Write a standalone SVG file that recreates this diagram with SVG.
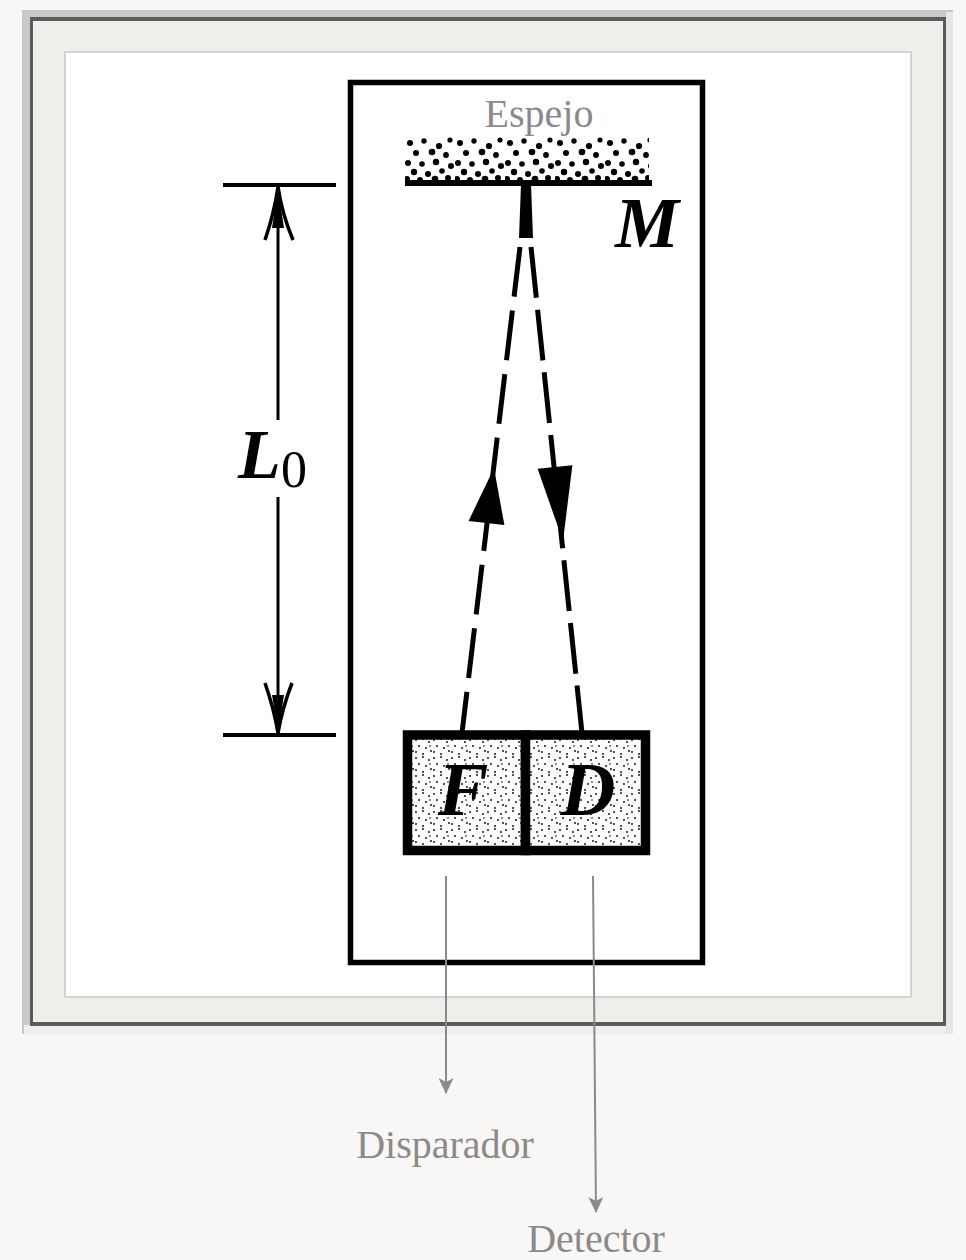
<svg xmlns="http://www.w3.org/2000/svg" width="966" height="1260" viewBox="0 0 966 1260">
  <style>
    .ink { stroke: #000; fill: none; }
    .cell { stroke: #000; stroke-width: 9.5; fill: url(#boxDots); }
    .beam { stroke: #000; stroke-width: 5; fill: none; }
    .label { font-family: "Liberation Serif", "DejaVu Serif", serif; fill: #8a8a8a; font-size: 40px; }
    .sym { font-family: "Liberation Serif", "DejaVu Serif", serif; font-weight: bold; font-style: italic; fill: #000; }
    .callout { stroke: #8a8a8a; stroke-width: 2; fill: none; }
  </style>
  <defs>
    <marker id="grayHead" viewBox="0 0 16 15" refX="15" refY="7.5" markerWidth="16" markerHeight="15" markerUnits="userSpaceOnUse" orient="auto">
      <path d="M0,0 L16,7.5 L0,15 L4,7.5 Z" fill="#8a8a8a"/>
    </marker>
    <pattern id="mirrorDots" patternUnits="userSpaceOnUse" x="405" y="137" width="50" height="44">
      <g fill="#000">
        <circle cx="5" cy="6" r="3"/><circle cx="19" cy="4" r="2.7"/><circle cx="34" cy="9" r="3.1"/><circle cx="45" cy="3" r="2.6"/>
        <circle cx="11" cy="16" r="3"/><circle cx="27" cy="15" r="3.3"/><circle cx="41" cy="18" r="2.9"/>
        <circle cx="3" cy="26" r="3"/><circle cx="17" cy="27" r="2.8"/><circle cx="31" cy="25" r="3.2"/><circle cx="46" cy="29" r="3"/>
        <circle cx="9" cy="35" r="3.2"/><circle cx="23" cy="37" r="3"/><circle cx="37" cy="34" r="2.8"/>
        <circle cx="2" cy="42" r="3"/><circle cx="15" cy="43" r="3"/><circle cx="30" cy="42" r="3.3"/><circle cx="43" cy="41" r="3"/>
      </g>
    </pattern>
    <pattern id="boxDots" patternUnits="userSpaceOnUse" x="0" y="0" width="18" height="18">
      <rect width="18" height="18" fill="#fff"/>
      <g fill="#000">
        <circle cx="2" cy="2" r="0.9"/><circle cx="9" cy="1" r="0.9"/><circle cx="15" cy="4" r="0.9"/>
        <circle cx="5" cy="8" r="0.9"/><circle cx="12" cy="10" r="0.9"/><circle cx="17" cy="13" r="0.9"/>
        <circle cx="2" cy="14" r="0.9"/><circle cx="9" cy="16" r="0.9"/><circle cx="16" cy="8" r="0.8"/>
      </g>
    </pattern>
  </defs>

  <rect width="966" height="1260" fill="#f8f7f5"/>

  <g id="frame">
    <rect x="22" y="10" width="931" height="1024" fill="#c9c9c9"/>
    <rect x="24" y="1025" width="929" height="9" fill="#efefef"/>
    <rect x="946" y="12" width="7" height="1022" fill="#e6e6e6"/>
    <rect x="30" y="17" width="916" height="1009" fill="#5a5a5a"/>
    <rect x="33" y="21" width="910" height="1001" fill="#eeeeeb"/>
    <rect x="65" y="52" width="846" height="945" fill="#ffffff" stroke="#c8c8c8" stroke-width="1.5"/>
  </g>

  <g id="apparatus">
    <rect x="350.5" y="82.5" width="352" height="880" class="ink" stroke-width="5.5"/>
  </g>

  <g id="mirror">
    <rect x="405" y="137" width="244" height="45" fill="url(#mirrorDots)"/>
    <line x1="405" y1="183" x2="652" y2="183" class="ink" stroke-width="6"/>
    <text x="539" y="127" class="label" text-anchor="middle">Espejo</text>
    <text x="647" y="247" class="sym" font-size="72" text-anchor="middle">M</text>
  </g>

  <g id="dimension">
    <line x1="223" y1="185" x2="336" y2="185" class="ink" stroke-width="4"/>
    <line x1="223" y1="735" x2="336" y2="735" class="ink" stroke-width="4"/>
    <line x1="278" y1="187" x2="278" y2="420" class="ink" stroke-width="3"/>
    <line x1="278" y1="497" x2="278" y2="733" class="ink" stroke-width="3"/>
    <path d="M265,240 Q274,214 278,187 Q282,214 293,240" class="ink" stroke-width="3.5"/>
    <path d="M272,228 L278,188 L284,228 Z" fill="#000"/>
    <path d="M265,683 Q274,709 278,733 Q282,709 292,683" class="ink" stroke-width="3.5"/>
    <path d="M272,695 L278,733 L284,695 Z" fill="#000"/>
    <text x="238" y="478" class="sym" font-size="70">L</text>
    <text x="281" y="487" font-family="Liberation Serif, DejaVu Serif, serif" font-size="52" fill="#000">0</text>
  </g>

  <g id="emitter">
    <rect x="407.5" y="735" width="118" height="115.5" class="cell"/>
    <text x="463" y="815" class="sym" font-size="76" text-anchor="middle">F</text>
  </g>
  <g id="detector">
    <rect x="525.5" y="735" width="120" height="115.5" class="cell"/>
    <text x="588" y="815" class="sym" font-size="76" text-anchor="middle">D</text>
  </g>

  <g id="connectors">
    <path d="M521,184 L531,184 L533,238 L519,238 Z" fill="#000"/>
    <line x1="520" y1="247" x2="462" y2="733" class="beam" stroke-dasharray="50 14"/>
    <line x1="531" y1="247" x2="582" y2="733" class="beam" stroke-dasharray="51 12"/>
    <polygon points="494,468 468.6,520.9 504.4,525.1" fill="#000"/>
    <polygon points="563,541 537.6,468.8 572.4,465.2" fill="#000"/>
    <line x1="446" y1="876" x2="446" y2="1093" class="callout" marker-end="url(#grayHead)"/>
    <line x1="593" y1="876" x2="596" y2="1212" class="callout" marker-end="url(#grayHead)"/>
  </g>

  <g id="labels">
    <text x="445" y="1158" class="label" text-anchor="middle">Disparador</text>
    <text x="596" y="1252" class="label" text-anchor="middle">Detector</text>
  </g>
</svg>
